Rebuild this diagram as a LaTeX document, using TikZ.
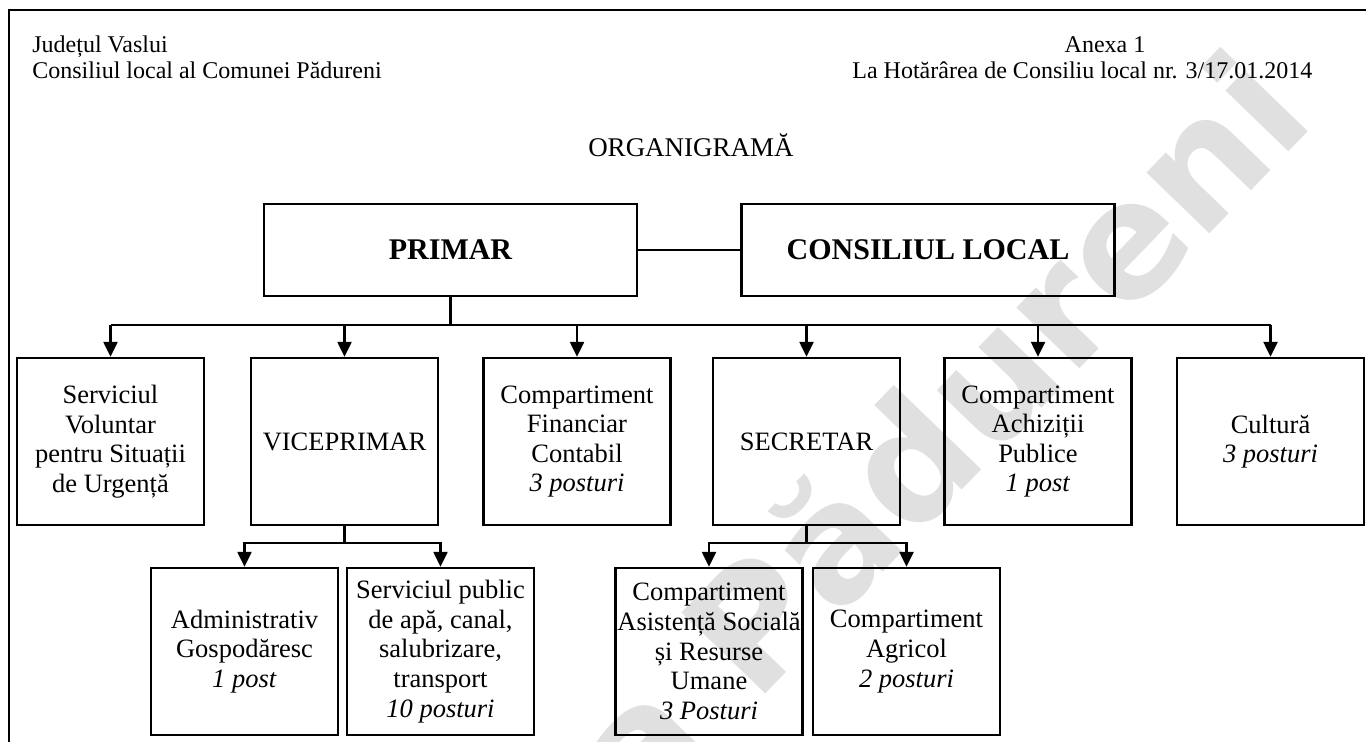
\documentclass[tikz,border=0pt]{standalone}
\usepackage{fontspec}
\setmainfont{Liberation Serif}
\newfontfamily\wmfont{DejaVu Sans}
\usetikzlibrary{arrows.meta}

\tikzset{
    link/.style={line width=1.2pt},
    arr/.style={link, -{Triangle[width=7pt,length=7.5pt]}},
    box/.style={draw, line width=1.2pt, minimum width=93.5pt, minimum height=83.5pt,
                align=center, inner sep=1pt, font=\fontsize{13.25}{14.8}\selectfont},
    head/.style={draw, line width=1.2pt, minimum width=186.5pt, minimum height=46pt,
                 font=\fontsize{15}{18}\selectfont\bfseries},
    hdr/.style={inner sep=0pt, font=\fontsize{12}{13}\selectfont}
}

\begin{document}
\begin{tikzpicture}[x=0.5pt, y=-0.5pt]
    \useasboundingbox (0,0) rectangle (1366,742);
    \fill[white] (0,0) rectangle (1366,742);
    \clip (0,0) rectangle (1366,742);

    % watermark
    \node[rotate=46, inner sep=0pt, anchor=base east, text=black!12,
          font=\wmfont\bfseries\fontsize{80}{80}\selectfont] (wm) at (1318,122) {Primăria Pădureni};

    % frame
    \draw[link] (9,760) -- (9,10) -- (1380,10);

    % header
    \node[hdr, anchor=base west] (judet) at (32,53) {Județul Vaslui};
    \node[hdr, anchor=base west] (consloc) at (32,79) {Consiliul local al Comunei Pădureni};
    \node[hdr, anchor=base] (anexa) at (1105,53) {Anexa 1};
    \node[hdr, anchor=base west] (hotarare) at (852,79) {La Hotărârea de Consiliu local nr. 3/17.01.2014};
    \node[inner sep=0pt, anchor=base, font=\fontsize{13.5}{15}\selectfont] (titlu) at (691,157) {ORGANIGRAMĂ};

    % conducere
    \node[head] (primar) at (450.5,250) {PRIMAR};
    \node[head] (consiliu) at (928,250) {CONSILIUL LOCAL};
    \draw[link] (primar) -- (consiliu);

    % randul 1
    \node[box] (svsu) at (110.5,441.5) {Serviciul\\Voluntar\\pentru Situații\\de Urgență};
    \node[box] (vice) at (344.5,441.5) {VICEPRIMAR};
    \node[box] (fin) at (577,441.5) {Compartiment\\Financiar\\Contabil\\\textit{3 posturi}};
    \node[box] (secr) at (806.5,441.5) {SECRETAR};
    \node[box] (achiz) at (1038,441.5) {Compartiment\\Achiziții\\Publice\\\textit{1 post}};
    \node[box] (cult) at (1270.5,441.5) {Cultură\\\textit{3 posturi}};

    % randul 2
    \node[box] (adm) at (244.5,651.5) {Administrativ\\Gospodăresc\\\textit{1 post}};
    \node[box] (apa) at (440.5,651.5) {Serviciul public\\de apă, canal,\\salubrizare,\\transport\\\textit{10 posturi}};
    \node[box] (asist) at (709,651.5) {Compartiment\\Asistență Socială\\și Resurse\\Umane\\\textit{3 Posturi}};
    \node[box] (agri) at (906.5,651.5) {Compartiment\\Agricol\\\textit{2 posturi}};

    % legaturi
    \coordinate (bus) at (0,325);
    \draw[link] (primar.south) -- (primar.south |- bus);
    \draw[link] (svsu.north |- bus) -- (cult.north |- bus);
    \foreach \n in {svsu,vice,fin,secr,achiz,cult}
        \draw[arr] (\n.north |- bus) -- (\n.north);

    \draw[arr] (vice.south) -- ++(0,17) -| (adm.north);
    \draw[arr] (vice.south) -- ++(0,17) -| (apa.north);
    \draw[arr] (secr.south) -- ++(0,17) -| (asist.north);
    \draw[arr] (secr.south) -- ++(0,17) -| (agri.north);
\end{tikzpicture}
\end{document}
